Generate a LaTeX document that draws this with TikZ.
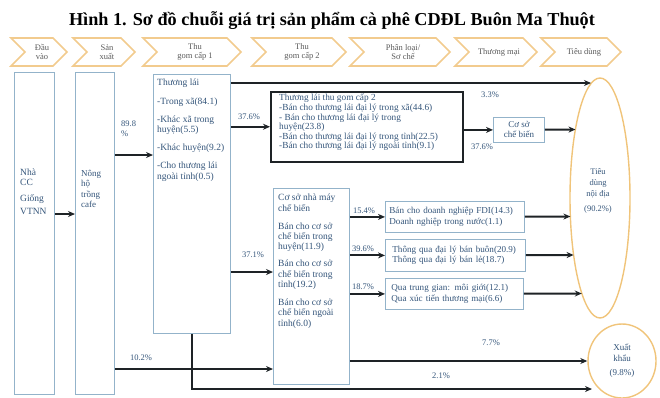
\documentclass[tikz,border=0pt]{standalone}
\usepackage{fontspec}
\setmainfont{Liberation Serif}
\usetikzlibrary{arrows.meta,shapes.geometric}

\definecolor{chevline}{HTML}{F2CB8E}
\definecolor{boxline}{HTML}{93B3CA}
\definecolor{txtblue}{HTML}{34557A}
\definecolor{flowline}{HTML}{1E2326}
\definecolor{ovalline}{HTML}{F0C47A}

\begin{document}
\begin{tikzpicture}[x=1pt,y=-1pt,>={Stealth[length=7pt,width=6pt]},
  box/.style={draw=boxline,line width=0.8pt,inner sep=0pt,anchor=north west},
  lbox/.style={box,text=txtblue,font=\fontsize{9.1}{10.5}\selectfont,align=left,inner xsep=4pt,minimum height=31pt},
  txt/.style={text=txtblue,font=\fontsize{9.5}{10.5}\selectfont,align=left,inner sep=0pt},
  pct/.style={text=txtblue,font=\fontsize{8.5}{9.5}\selectfont,align=left,inner sep=0pt},
  flow/.style={draw=flowline,line width=2pt,->},
  chev/.style={draw=chevline,line width=1.6pt},
  chevtxt/.style={text=black!65,font=\fontsize{8.5}{9.5}\selectfont,align=center},
  oval/.style={draw=ovalline,line width=1.4pt,ellipse,inner sep=0pt}]

\useasboundingbox (0,0) rectangle (660,397);

% title
\node[font=\fontsize{18.2}{20}\selectfont\bfseries] (title) at (332,21) {Hình 1. Sơ đồ chuỗi giá trị sản phẩm cà phê CDĐL Buôn Ma Thuột};

% stages
\foreach \xa/\xb/\cname/\ctext in {11/67/dauvao/{Đầu\\vào}, 73/135/sanxuat/{Sản\\xuất},
    143/241/thugommot/{Thu\\gom cấp 1}, 252/346/thugomhai/{Thu\\gom cấp 2},
    350/450/phanloai/{Phân loại/\\Sơ chế}, 455/537/thuongmai/{Thương mại},
    541/621/tieudunghead/{Tiêu dùng}}{
  \draw[chev] (\xa,38) -- (\xb-14,38) -- (\xb,52) -- (\xb-14,66) -- (\xa,66) -- (\xa+14,52) -- cycle;
  \node[chevtxt] (\cname) at ({(\xa+\xb)/2+3},52) {\ctext};
}

% actors
\node[box,minimum width=40pt,minimum height=322pt] (ncc) at (14,72) {};
\node[txt,anchor=west] (ncctext) at (20,192) {Nhà\\CC\\[5pt]Giống\\[3pt]VTNN};

\node[box,minimum width=39pt,minimum height=322pt] (nongho) at (75,72) {};
\node[txt,anchor=west,font=\fontsize{9}{10.5}\selectfont] (nonghotext) at (81,189) {Nông\\hộ\\trồng\\cafe};

\node[box,minimum width=77pt,minimum height=259pt] (thuonglai) at (153,74) {};
\node[txt,anchor=north west] (thuonglaitext) at (157,79) {Thương lái\\[8.5pt]-Trong xã(84.1)\\[7pt]-Khác xã trong\\huyện(5.5)\\[7pt]-Khác huyện(9.2)\\[8pt]-Cho thương lái\\ngoài tỉnh(0.5)};

\node[box,draw=flowline,line width=1.5pt,minimum width=192pt,minimum height=70pt] (tlcaphai) at (270,91) {};
\node[txt,anchor=north west,font=\fontsize{9.3}{9.6}\selectfont] (tlcaphaitext) at (279,94) {Thương lái thu gom cấp 2\\-Bán cho thương lái đại lý trong xã(44.6)\\- Bán cho thương lái đại lý trong\\huyện(23.8)\\-Bán cho thương lái đại lý trong tỉnh(22.5)\\-Bán cho thương lái đại lý ngoài tỉnh(9.1)};

\node[box,text=txtblue,font=\fontsize{9}{10}\selectfont,align=center,minimum width=51pt,minimum height=25pt] (csb) at (493,117) {Cơ sở\\chế biến};

\node[box,minimum width=76pt,minimum height=196pt] (cosonm) at (273,188) {};
\node[txt,anchor=north west,font=\fontsize{9.5}{10.4}\selectfont] (cosonmtext) at (278,194) {Cơ sở nhà máy\\chế biến\\[7.5pt]Bán cho cơ sở\\chế biến trong\\huyện(11.9)\\[6.5pt]Bán cho cơ sở\\chế biến trong\\tỉnh(19.2)\\[7.5pt]Bán cho cơ sở\\chế biến ngoài\\tỉnh(6.0)};

\node[lbox,text width=131pt] (boxa) at (385,201) {Bán cho doanh nghiệp FDI(14.3)\\Doanh nghiệp trong nước(1.1)};
\node[lbox,text width=132pt,minimum height=32pt] (boxb) at (385,239) {\hspace*{3pt}Thông qua đại lý bán buôn(20.9)\\\hspace*{3pt}Thông qua đại lý bán lẻ(18.7)};
\node[lbox,text width=130pt] (boxc) at (385,278) {\hspace*{2pt}Qua trung gian: môi giới(12.1)\\\hspace*{2pt}Qua xúc tiến thương mại(6.6)};

\node[oval,minimum width=60pt,minimum height=240pt] (tieudung) at (600,198) {};
\node[txt,align=center,font=\fontsize{8.5}{11}\selectfont] (tieudungtext) at (598,191) {Tiêu\\dùng\\nội địa\\[4pt](90.2\%)};

\node[oval,minimum width=68pt,minimum height=74pt,text=txtblue,font=\fontsize{9}{11}\selectfont,align=center] (xuatkhau) at (622,361) {Xuất\\khẩu\\[3pt](9.8\%)};

% arrow ends on the ovals
\coordinate (tdtop) at (591,83);
\coordinate (tdcsb) at (575.5,129.5);
\coordinate (tda) at (570.4,216.5);
\coordinate (tdb) at (573.6,255);
\coordinate (tdc) at (581.8,293.5);
\coordinate (xkbot) at (592,389);

% flows
\draw[flow] (ncc.east |- 0,214) -- (nongho.west |- 0,214);
\draw[flow] (nongho.east |- 0,155) -- (thuonglai.west |- 0,155);
\draw[flow] (nongho.east |- 0,369) -- (cosonm.west |- 0,369);
\draw[flow] (thuonglai.east |- tdtop) -- (tdtop);
\draw[flow] (thuonglai.east |- tlcaphai) -- (tlcaphai);
\draw[flow] (tlcaphai.east |- csb) -- (csb);
\draw[flow] (csb) -- (tdcsb);
\draw[flow] (thuonglai.east |- 0,272) -- (cosonm.west |- 0,272);
\draw[flow] (cosonm.east |- boxa) -- (boxa);
\draw[flow] (cosonm.east |- boxb) -- (boxb);
\draw[flow] (cosonm.east |- boxc) -- (boxc);
\draw[flow] (boxa) -- (tda);
\draw[flow] (boxb) -- (tdb);
\draw[flow] (boxc) -- (tdc);
\draw[flow] (cosonm.east |- xuatkhau) -- (xuatkhau);
\draw[flow] (thuonglai.south) -- (thuonglai.south |- xkbot) -- (xkbot);

% shares
\node[pct,anchor=north west] (p898) at (121,121) {89.8\\\%};
\node[pct] (p376a) at (249,117) {37.6\%};
\node[pct] (p33) at (490,95) {3.3\%};
\node[pct] (p376b) at (482,147) {37.6\%};
\node[pct] (p371) at (253,255) {37.1\%};
\node[pct] (p154) at (364,211) {15.4\%};
\node[pct] (p396) at (363,249) {39.6\%};
\node[pct] (p187) at (363,287) {18.7\%};
\node[pct] (p102) at (141,358) {10.2\%};
\node[pct] (p77) at (491,343) {7.7\%};
\node[pct] (p21) at (441,376) {2.1\%};
\end{tikzpicture}
\end{document}
